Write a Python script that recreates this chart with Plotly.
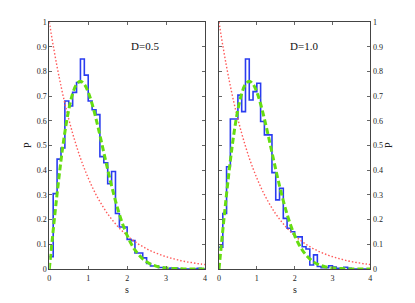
import plotly.graph_objects as go

# ---- data ----
bin_left = [round(0.1 * i, 1) for i in range(40)]
bin_width = 0.1

hist_d05 = [0.05, 0.305, 0.445, 0.49, 0.68, 0.66, 0.715, 0.755, 0.85, 0.785,
            0.68, 0.645, 0.625, 0.455, 0.43, 0.345, 0.395, 0.225, 0.17, 0.17,
            0.12, 0.115, 0.065, 0.065, 0.045, 0.022, 0.012, 0.012, 0.006, 0.006,
            0.0, 0.004, 0.004, 0.0, 0.0, 0.0, 0.0, 0.0, 0.003, 0.0]

hist_d10 = [0.088, 0.225, 0.414, 0.607, 0.607, 0.704, 0.637, 0.85, 0.684, 0.718,
            0.752, 0.597, 0.543, 0.543, 0.39, 0.28, 0.327, 0.205, 0.165, 0.151,
            0.13, 0.13, 0.09, 0.081, 0.016, 0.057, 0.01, 0.005, 0.005, 0.013,
            0.008, 0.003, 0.003, 0.007, 0.003, 0.0, 0.0, 0.0, 0.0, 0.0]

curve_s = [round(0.1 * i, 1) for i in range(41)]
poisson_p = [1.000, 0.905, 0.819, 0.741, 0.670, 0.607, 0.549, 0.497, 0.449, 0.407,
             0.368, 0.333, 0.301, 0.273, 0.247, 0.223, 0.202, 0.183, 0.165, 0.150,
             0.135, 0.122, 0.111, 0.100, 0.091, 0.082, 0.074, 0.067, 0.061, 0.055,
             0.050, 0.045, 0.041, 0.037, 0.033, 0.030, 0.027, 0.025, 0.022, 0.020,
             0.018]
wigner_p = [0.0, 0.156, 0.304, 0.439, 0.554, 0.645, 0.710, 0.748, 0.760, 0.748,
            0.716, 0.668, 0.608, 0.542, 0.472, 0.403, 0.337, 0.276, 0.222, 0.175,
            0.136, 0.103, 0.077, 0.057, 0.041, 0.029, 0.020, 0.014, 0.009, 0.006,
            0.004, 0.003, 0.002, 0.001, 0.001, 0.0, 0.0, 0.0, 0.0, 0.0, 0.0]

panel_labels = ["D=0.5", "D=1.0"]
label_s = [2.45, 2.24]
label_p = [0.904, 0.904]
x_ticks = [0, 1, 2, 3, 4]
y_ticks = [0, 0.1, 0.2, 0.3, 0.4, 0.5, 0.6, 0.7, 0.8, 0.9, 1]

W, H = 415, 303
FONT = "Liberation Serif"

fig = go.Figure()

panels = [("x", "y", hist_d05), ("x2", "y2", hist_d10)]
for xa, ya, hist in panels:
    xs = bin_left + [bin_left[-1] + bin_width]
    ys = hist + [hist[-1]]
    fig.add_trace(go.Scatter(x=xs, y=ys, xaxis=xa, yaxis=ya, mode="lines",
                             line=dict(color="#2a3cf0", width=1.6, shape="hv"),
                             showlegend=False, hoverinfo="skip"))
    fig.add_trace(go.Scatter(x=curve_s, y=poisson_p, xaxis=xa, yaxis=ya, mode="lines",
                             line=dict(color="#ff5a5a", width=1.4, dash="1.5px,2px", shape="spline"),
                             showlegend=False, hoverinfo="skip"))
    fig.add_trace(go.Scatter(x=curve_s, y=wigner_p, xaxis=xa, yaxis=ya, mode="lines",
                             line=dict(color="#66dd11", width=3, dash="6px,3px", shape="spline"),
                             showlegend=False, hoverinfo="skip"))

ybot, ytop = 1 - 269 / H, 1 - 22 / H
axis_common = dict(showline=True, linecolor="#444", linewidth=1, mirror="ticks",
                   ticks="inside", ticklen=3, tickcolor="#666", showgrid=False,
                   zeroline=False, automargin=False,
                   tickfont=dict(family=FONT, size=8, color="#222"))

fig.update_layout(
    width=W, height=H, margin=dict(l=0, r=0, t=0, b=0),
    paper_bgcolor="white", plot_bgcolor="white",
    xaxis=dict(domain=[49.3 / W, 205 / W], range=[0, 4], tickvals=x_ticks,
               anchor="y", ticklabelstandoff=1, **axis_common),
    yaxis=dict(domain=[ybot, ytop], range=[0, 1], tickvals=y_ticks,
               anchor="x", **axis_common),
    xaxis2=dict(domain=[219 / W, 370.3 / W], range=[0, 4], tickvals=x_ticks,
                anchor="y2", ticklabelstandoff=1, **axis_common),
    yaxis2=dict(domain=[ybot, ytop], range=[0, 1], tickvals=y_ticks, side="right",
                anchor="x2", **axis_common),
)

for i, (xa, ya) in enumerate([("x", "y"), ("x2", "y2")]):
    fig.add_annotation(x=label_s[i], y=label_p[i], xref=xa, yref=ya, text=panel_labels[i],
                       showarrow=False, xanchor="center", yanchor="middle",
                       font=dict(family=FONT, size=11, color="#111"))

title_font = dict(family=FONT, size=10, color="#222")
# axis titles
for tx, ty, txt, ang in [(127, 289, "s", 0), (295, 289, "s", 0),
                         (27, 145, "P", -90), (388, 145, "P", -90)]:
    fig.add_annotation(x=tx / W, y=1 - ty / H, xref="paper", yref="paper", text=txt,
                       textangle=ang, showarrow=False, xanchor="center", yanchor="middle",
                       font=title_font)

fig.write_html("out.html", config={"displayModeBar": False},
               post_script="document.body.style.margin='0';document.body.style.overflow='hidden';")
